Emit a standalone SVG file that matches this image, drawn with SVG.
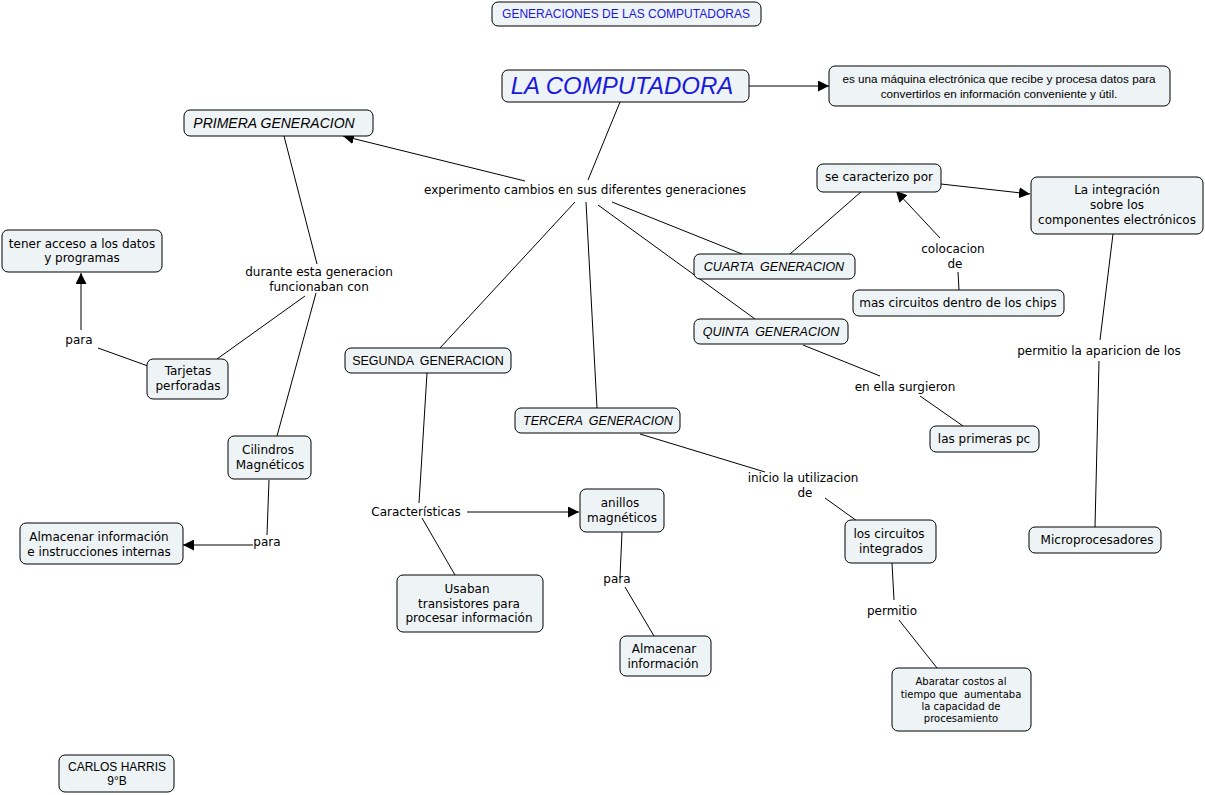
<svg xmlns="http://www.w3.org/2000/svg" width="1205" height="795" viewBox="0 0 1205 795">
<style>
.n{fill:#eef3f5;stroke:#000;stroke-width:1}
.v{font-family:"DejaVu Sans",Verdana,sans-serif;font-size:12px;fill:#000;text-anchor:middle}
.a{font-family:"Liberation Sans",Arial,sans-serif;font-size:12px;fill:#000;text-anchor:middle}
.g{font-size:12.5px;word-spacing:3px}
.i{font-style:italic}
.c line{stroke:#000;stroke-width:1}
</style>
<defs>
<marker id="ar" viewBox="0 0 10 10" refX="10" refY="5" markerWidth="11" markerHeight="11" markerUnits="userSpaceOnUse" orient="auto">
<path d="M0,0 L10,5 L0,10 z" fill="#000"/>
</marker>
</defs>
<rect width="1205" height="795" fill="#fff"/>
<g class="c">
<line x1="749" y1="86" x2="829" y2="86" marker-end="url(#ar)"/>
<line x1="620" y1="102" x2="588" y2="180"/>
<line x1="525" y1="181" x2="343" y2="136" marker-end="url(#ar)"/>
<line x1="575" y1="202" x2="440" y2="348"/>
<line x1="586" y1="202" x2="597" y2="408"/>
<line x1="612" y1="202" x2="742" y2="254"/>
<line x1="598" y1="205" x2="755" y2="319"/>
<line x1="284" y1="136" x2="317" y2="264"/>
<line x1="305" y1="296" x2="217" y2="359"/>
<line x1="316" y1="293" x2="277" y2="436"/>
<line x1="81" y1="330" x2="81" y2="273" marker-end="url(#ar)"/>
<line x1="98" y1="348" x2="148" y2="366"/>
<line x1="269" y1="480" x2="267" y2="535"/>
<line x1="253" y1="545" x2="183" y2="545" marker-end="url(#ar)"/>
<line x1="427" y1="373" x2="419" y2="503"/>
<line x1="467" y1="512" x2="579" y2="512" marker-end="url(#ar)"/>
<line x1="422" y1="518" x2="455" y2="575"/>
<line x1="622" y1="532" x2="620" y2="577"/>
<line x1="625" y1="587" x2="654" y2="636"/>
<line x1="640" y1="434" x2="765" y2="472"/>
<line x1="825" y1="498" x2="857" y2="521"/>
<line x1="892" y1="563" x2="894" y2="600"/>
<line x1="899" y1="620" x2="937" y2="668"/>
<line x1="790" y1="254" x2="862" y2="191"/>
<line x1="941" y1="184" x2="1030" y2="194" marker-end="url(#ar)"/>
<line x1="940" y1="238" x2="896" y2="191" marker-end="url(#ar)"/>
<line x1="958" y1="272" x2="959" y2="290"/>
<line x1="1113" y1="234" x2="1100" y2="340"/>
<line x1="1099" y1="361" x2="1095" y2="527"/>
<line x1="803" y1="345" x2="880" y2="376"/>
<line x1="920" y1="396" x2="963" y2="426"/>
</g>
<g id="titulo"><rect class="n" x="492" y="2" width="269" height="24" rx="6"/><text class="a" x="626" y="18" style="fill:#1a1adc">GENERACIONES DE LAS COMPUTADORAS</text></g>
<g id="computadora"><rect class="n" x="502" y="70" width="247" height="32" rx="6"/><text class="a i" x="622" y="94" style="font-size:24px;fill:#1a1adc">LA COMPUTADORA</text></g>
<g id="definicion"><rect class="n" x="829" y="66" width="341" height="40" rx="6"/><text class="a" x="999" y="83" style="font-size:11.7px">es una máquina electrónica que recibe y procesa datos para</text><text class="a" x="999" y="98" style="font-size:11.7px">convertirlos en información conveniente y útil.</text></g>
<g id="l-experimento"><text class="v" x="585" y="194">experimento cambios en sus diferentes generaciones</text></g>
<g id="primera"><rect class="n" x="184" y="110" width="189" height="26" rx="6"/><text class="a i" x="274" y="128" style="font-size:14px">PRIMERA GENERACION</text></g>
<g id="l-durante"><text class="v" x="319" y="276">durante esta generacion</text><text class="v" x="319" y="291">funcionaban con</text></g>
<g id="acceso"><rect class="n" x="2" y="230" width="160" height="42" rx="6"/><text class="v" x="82" y="248">tener acceso a los datos</text><text class="v" x="82" y="262">y programas</text></g>
<g id="l-para1"><text class="v" x="79" y="344">para</text></g>
<g id="tarjetas"><rect class="n" x="147" y="359" width="81" height="40" rx="6"/><text class="v" x="188" y="375">Tarjetas</text><text class="v" x="188" y="390">perforadas</text></g>
<g id="cilindros"><rect class="n" x="228" y="436" width="83" height="43" rx="6"/><text class="v" x="268" y="454">Cilindros</text><text class="v" x="270" y="469">Magnéticos</text></g>
<g id="l-para2"><text class="v" x="267" y="546">para</text></g>
<g id="almacenar1"><rect class="n" x="20" y="523" width="163" height="41" rx="6"/><text class="v" x="99" y="541">Almacenar información</text><text class="v" x="99" y="556">e instrucciones internas</text></g>
<g id="segunda"><rect class="n" x="345" y="348" width="166" height="25" rx="6"/><text class="a g" x="428" y="365">SEGUNDA GENERACION</text></g>
<g id="l-caracteristicas"><text class="v" x="416" y="516">Características</text></g>
<g id="usaban"><rect class="n" x="397" y="575" width="146" height="57" rx="6"/><text class="v" x="467" y="593">Usaban</text><text class="v" x="469" y="608">transistores para</text><text class="v" x="469" y="622">procesar información</text></g>
<g id="anillos"><rect class="n" x="580" y="489" width="84" height="43" rx="6"/><text class="v" x="620" y="507">anillos</text><text class="v" x="622" y="522">magnéticos</text></g>
<g id="l-para3"><text class="v" x="617" y="583">para</text></g>
<g id="almacenar2"><rect class="n" x="620" y="636" width="91" height="40" rx="6"/><text class="v" x="664" y="653">Almacenar</text><text class="v" x="663" y="668">información</text></g>
<g id="tercera"><rect class="n" x="515" y="408" width="165" height="25" rx="6"/><text class="a i g" x="598" y="425">TERCERA GENERACION</text></g>
<g id="l-inicio"><text class="v" x="803" y="482">inicio la utilizacion</text><text class="v" x="805" y="497">de</text></g>
<g id="circuitos"><rect class="n" x="845" y="520" width="91" height="43" rx="6"/><text class="v" x="889" y="538">los circuitos</text><text class="v" x="891" y="553">integrados</text></g>
<g id="l-permitio"><text class="v" x="892" y="615">permitio</text></g>
<g id="abaratar"><rect class="n" x="892" y="668" width="139" height="63" rx="6"/><text class="v" x="961" y="685" style="font-size:10px">Abaratar costos al</text><text class="v" x="961" y="698" style="font-size:10px;white-space:pre" xml:space="preserve">tiempo que  aumentaba</text><text class="v" x="961" y="710" style="font-size:10px">la capacidad de</text><text class="v" x="961" y="722" style="font-size:10px">procesamiento</text></g>
<g id="cuarta"><rect class="n" x="694" y="254" width="161" height="25" rx="6"/><text class="a i g" x="774" y="271">CUARTA GENERACION</text></g>
<g id="caracterizo"><rect class="n" x="817" y="164" width="124" height="28" rx="6"/><text class="v" x="879" y="181">se caracterizo por</text></g>
<g id="l-colocacion"><text class="v" x="953" y="253">colocacion</text><text class="v" x="955" y="268">de</text></g>
<g id="mascircuitos"><rect class="n" x="853" y="290" width="211" height="26" rx="6"/><text class="v" x="958" y="307">mas circuitos dentro de los chips</text></g>
<g id="integracion"><rect class="n" x="1031" y="177" width="172" height="57" rx="6"/><text class="v" x="1117" y="194">La integración</text><text class="v" x="1117" y="209">sobre los</text><text class="v" x="1117" y="224">componentes electrónicos</text></g>
<g id="l-aparicion"><text class="v" x="1099" y="355">permitio la aparicion de los</text></g>
<g id="micro"><rect class="n" x="1029" y="527" width="132" height="26" rx="6"/><text class="v" x="1097" y="544">Microprocesadores</text></g>
<g id="quinta"><rect class="n" x="694" y="319" width="154" height="25" rx="6"/><text class="a i g" x="771" y="336">QUINTA GENERACION</text></g>
<g id="l-surgieron"><text class="v" x="905" y="391">en ella surgieron</text></g>
<g id="primeraspc"><rect class="n" x="930" y="426" width="109" height="26" rx="6"/><text class="v" x="984" y="443">las primeras pc</text></g>
<g id="autor"><rect class="n" x="59" y="755" width="115" height="37" rx="6"/><text class="a" x="117" y="771">CARLOS HARRIS</text><text class="a" x="117" y="785">9°B</text></g>
</svg>
